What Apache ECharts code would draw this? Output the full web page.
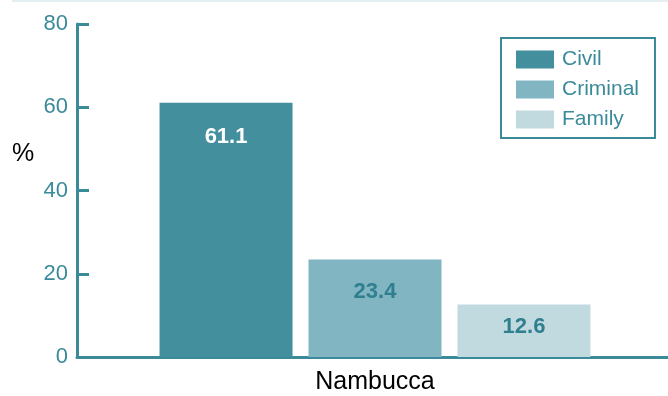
<!DOCTYPE html>
<html><head><meta charset="utf-8">
<script src="https://cdn.jsdelivr.net/npm/echarts@6/dist/echarts.min.js"></script>
<style>html,body{margin:0;padding:0;background:#fff}#c{width:668px;height:396px}</style>
</head><body><div id="c"></div>
<script>
var categories = ['Nambucca'];
var seriesNames = ['Civil', 'Criminal', 'Family'];
var civil = [61.1];
var criminal = [23.4];
var family = [12.6];
var yTicks = [0, 20, 40, 60, 80];
var yUnit = '%';

var colors = ['#438f9e', '#80b5c1', '#c1dae0'];
var labelColors = ['#ffffff', '#2f7f8f', '#2f7f8f'];
var labelDist = [23, 21, 11];
var dataSets = [civil, criminal, family];
var teal = '#3a8a9a';
var font = 'Liberation Sans, Arial, sans-serif';

var chart = echarts.init(document.getElementById('c'), null, {renderer: 'canvas'});
chart.setOption({
  animation: false,
  textStyle: {fontFamily: font},
  grid: {left: 77, right: -5, top: 24, bottom: 39, containLabel: false, outerBoundsMode: 'none'},
  legend: {
    orient: 'vertical', left: 501, top: 38,
    padding: [11, 13, 8, 15],
    itemWidth: 38, itemHeight: 18, itemGap: 9,
    borderColor: teal, borderWidth: 2,
    icon: 'rect',
    textStyle: {color: teal, fontSize: 21, lineHeight: 18, height: 18, width: 80, fontFamily: font, padding: [0, 0, 0, 3]},
    data: seriesNames
  },
  xAxis: {
    type: 'category', data: categories,
    axisLine: {lineStyle: {color: teal, width: 3}},
    axisTick: {show: false},
    axisLabel: {color: '#000', fontSize: 25, margin: 13, fontFamily: font}
  },
  yAxis: {
    type: 'value', min: yTicks[0], max: yTicks[yTicks.length - 1], interval: 20,
    axisLine: {show: true, lineStyle: {color: teal, width: 3}},
    axisTick: {show: true, inside: true, length: 12, lineStyle: {color: teal, width: 3}},
    splitLine: {show: false},
    axisLabel: {color: teal, fontSize: 22, margin: 9, fontFamily: font}
  },
  graphic: [
    {type: 'line', shape: {x1: 12, y1: 1, x2: 668, y2: 1}, style: {stroke: '#e3eff1', lineWidth: 2}},
    {type: 'text', left: 12, top: 142, style: {text: yUnit, fill: '#000', font: '25px Liberation Sans, Arial, sans-serif'}}
  ],
  series: seriesNames.map(function (n, i) {
    return {
      name: n, type: 'bar', data: dataSets[i],
      barWidth: 133, barGap: '12%',
      itemStyle: {color: colors[i]},
      label: {
        show: true, position: 'insideTop', distance: labelDist[i],
        color: labelColors[i], fontSize: 22, fontWeight: 'bold', fontFamily: font,
        formatter: function (p) { return p.value.toFixed(1); }
      }
    };
  })
});
</script></body></html>
